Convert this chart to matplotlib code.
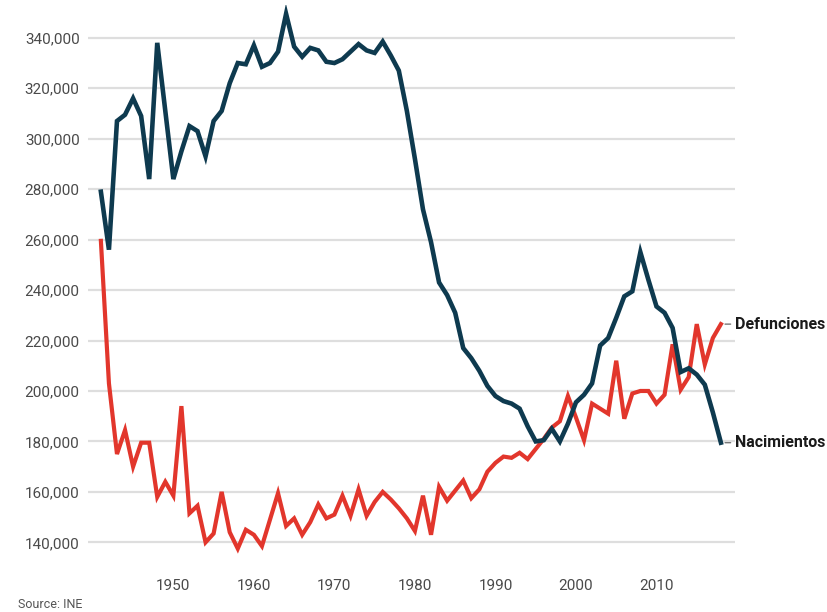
import matplotlib
matplotlib.use("Agg")
import matplotlib.pyplot as plt
from matplotlib.ticker import FuncFormatter

years = list(range(1941, 2019))

nacimientos = [
    279000, 256000, 307000, 309500, 316000, 309000, 284000, 338000, 311000, 284000,
    295000, 305000, 303000, 293000, 307000, 311000, 322000, 330000, 329500, 337000,
    328500, 330000, 334500, 349500, 336500, 332500, 336000, 335000, 330500, 330000,
    331500, 334500, 337500, 335000, 334000, 338500, 333000, 327000, 311000, 292000,
    272000, 259000, 243000, 238000, 231000, 217000, 213000, 208000, 202000, 198000,
    196000, 195000, 193000, 186000, 180000, 180500, 185000, 180000, 187000, 195500,
    198500, 203000, 218000, 221000, 229000, 237500, 239500, 255000, 244000, 233500,
    231000, 225000, 207500, 209000, 206500, 202500, 191500, 179500,
]

defunciones = [
    259500, 203000, 175000, 184500, 170000, 179500, 179500, 158000, 164000, 158500,
    194000, 151500, 154500, 140000, 143500, 160000, 144000, 137500, 145000, 143000,
    138500, 149000, 159500, 146500, 149500, 143000, 148000, 155000, 149500, 151000,
    158500, 150500, 161000, 150500, 156000, 160000, 157000, 153500, 149500, 144500,
    158500, 143000, 162000, 156500, 160500, 164500, 157500, 161000, 168000, 171500,
    174000, 173500, 175500, 173000, 177000, 181000, 185500, 188000, 198000, 189500,
    180500, 195000, 193000, 191000, 212000, 189000, 199000, 200000, 200000, 195000,
    198500, 218500, 200500, 205500, 226500, 210500, 221000, 226500,
]

y_ticks = list(range(140000, 340001, 20000))
x_ticks = [1950, 1960, 1970, 1980, 1990, 2000, 2010]

BLUE = "#0e3a4f"
RED = "#e2362c"

plt.rcParams["font.family"] = ["Roboto", "DejaVu Sans"]

fig = plt.figure(figsize=(8.27, 6.12), dpi=100)
ax = fig.add_axes([88 / 827, 52 / 612, (735 - 88) / 827, (560 - 5) / 612])

ax.plot(years, nacimientos, color=BLUE, lw=3.3, solid_joinstyle="miter", zorder=3)
ax.plot(years, defunciones, color=RED, lw=3.0, solid_joinstyle="miter", zorder=2)

ax.set_xlim(1939.4, 2019.75)
ax.set_ylim(133000, 353000)
ax.set_yticks(y_ticks)
ax.set_xticks(x_ticks)
ax.yaxis.set_major_formatter(FuncFormatter(lambda v, p: f"{int(v):,}"))
ax.grid(axis="y", color="#dedede", lw=1.6)
ax.set_axisbelow(True)
for s in ax.spines.values():
    s.set_visible(False)
ax.tick_params(axis="both", length=0, colors="#4a4a4a", labelsize=11)
ax.tick_params(axis="x", pad=14)
ax.tick_params(axis="y", pad=6)

# series labels at the line ends
for vals, name in [(defunciones, "Defunciones"), (nacimientos, "Nacimientos")]:
    ax.annotate(name, xy=(years[-1], vals[-1]), xytext=(10, 0),
                textcoords="offset points", va="center", ha="left",
                fontsize=11.5, fontweight="bold", color="#1a1a1a",
                annotation_clip=False,
                arrowprops=dict(arrowstyle="-", color="#777777", lw=1,
                                shrinkA=1, shrinkB=3))

fig.text(18 / 827, 1 - 605 / 612, "Source: INE", fontsize=9, color="#555555",
         va="center", ha="left")

fig.savefig("out.png", dpi=100)
plt.close(fig)
